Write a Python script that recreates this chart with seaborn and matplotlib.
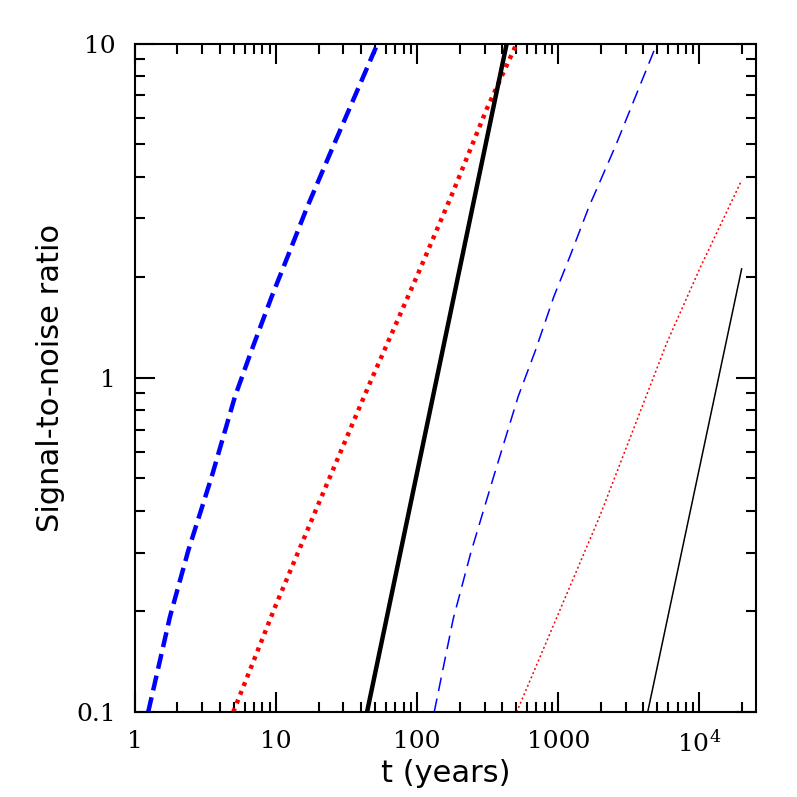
"""
Signal-to-noise ratio versus elapsed time, log-log plot with six curves.
"""

import numpy as np
import pandas as pd
import matplotlib
matplotlib.use("Agg")
import matplotlib.pyplot as plt
import matplotlib.ticker as mticker
import seaborn as sns

# thick curves
t_blue_thick = [1.24, 1.77, 2.39, 3.50, 5.11, 6.71, 9.31, 12.1, 16.5, 25.4, 50.2, 52.7]
s_blue_thick = [0.10, 0.193, 0.305, 0.507, 0.879, 1.21, 1.75, 2.31, 3.22, 4.93, 9.59, 10.0]

t_red_thick = [4.97, 9.82, 21.0, 45.0, 102, 180, 311, 507]
s_red_thick = [0.10, 0.206, 0.441, 0.94, 2.06, 3.61, 6.37, 10.0]

t_black_thick = [44.1, 137.9, 431]
s_black_thick = [0.10, 1.0, 10.0]

# thin curves
t_blue_thin = [132, 180, 240, 350, 520, 690, 930, 1210, 1650, 2540, 5000]
s_blue_thin = [0.10, 0.19, 0.30, 0.51, 0.88, 1.21, 1.75, 2.31, 3.25, 4.93, 10.0]

t_red_thin = [507, 1975, 3401, 5866, 10100, 19940]
s_red_thin = [0.10, 0.387, 0.700, 1.27, 2.13, 3.90]

t_black_thin = [4301, 19940]
s_black_thin = [0.10, 2.12]

x_ticks = [1, 10, 100, 1000, 1e4]
x_ticklabels = ["1", "10", "100", "1000", "10$^4$"]
y_ticks = [0.1, 1, 10]
y_ticklabels = ["0.1", "1", "10"]


def main():
    sns.set_theme(style="ticks")
    plt.rcParams["font.family"] = ["DejaVu Serif"]
    plt.rcParams["mathtext.default"] = "regular"
    plt.rcParams["text.color"] = "black"
    plt.rcParams["axes.labelcolor"] = "black"

    fig = plt.figure(figsize=(7.97, 7.97), dpi=100)
    ax = fig.add_axes([0.1694, 0.1066, 0.7792, 0.8388])

    curves = [
        (t_blue_thick, s_blue_thick, "#0000ff", 3.2, (0, (3.4, 1.6))),
        (t_red_thick, s_red_thick, "#ff0000", 3.2, (0, (0.9, 1.2))),
        (t_black_thick, s_black_thick, "#000000", 3.2, "-"),
        (t_blue_thin, s_blue_thin, "#0000ff", 1.1, (0, (9.0, 5.0))),
        (t_red_thin, s_red_thin, "#ff0000", 1.1, (0, (1.3, 1.7))),
        (t_black_thin, s_black_thin, "#000000", 1.1, "-"),
    ]
    for t, s, color, lw, ls in curves:
        df = pd.DataFrame({"t": t, "snr": s})
        sns.lineplot(data=df, x="t", y="snr", ax=ax, color=color,
                     linewidth=lw, linestyle=ls, estimator=None, sort=False)

    ax.set_xscale("log")
    ax.set_yscale("log")
    ax.set_xlim(1, 2.52e4)
    ax.set_ylim(0.1, 10)

    ax.xaxis.set_major_locator(mticker.FixedLocator(x_ticks))
    ax.xaxis.set_major_formatter(mticker.FixedFormatter(x_ticklabels))
    ax.xaxis.set_minor_locator(mticker.LogLocator(base=10, subs=np.arange(2, 10), numticks=20))
    ax.xaxis.set_minor_formatter(mticker.NullFormatter())
    ax.yaxis.set_major_locator(mticker.FixedLocator(y_ticks))
    ax.yaxis.set_major_formatter(mticker.FixedFormatter(y_ticklabels))
    ax.yaxis.set_minor_locator(mticker.LogLocator(base=10, subs=np.arange(2, 10), numticks=20))
    ax.yaxis.set_minor_formatter(mticker.NullFormatter())

    ax.tick_params(which="both", direction="in", top=True, right=True,
                   width=1.5, colors="black", labelsize=18)
    ax.tick_params(which="major", length=14.4)
    ax.tick_params(which="minor", length=7.2)
    ax.tick_params(axis="x", which="major", pad=13)
    ax.tick_params(axis="y", which="major", pad=14)
    for side in ax.spines.values():
        side.set_linewidth(1.5)
        side.set_color("black")

    ax.set_xlabel("t (years)", fontsize=22, labelpad=2,
                  family=["DejaVu Sans"], color="black")
    ax.set_ylabel("Signal-to-noise ratio", fontsize=22, labelpad=8,
                  family=["DejaVu Sans"], color="black")

    fig.savefig("out.png", dpi=100)


if __name__ == "__main__":
    main()
